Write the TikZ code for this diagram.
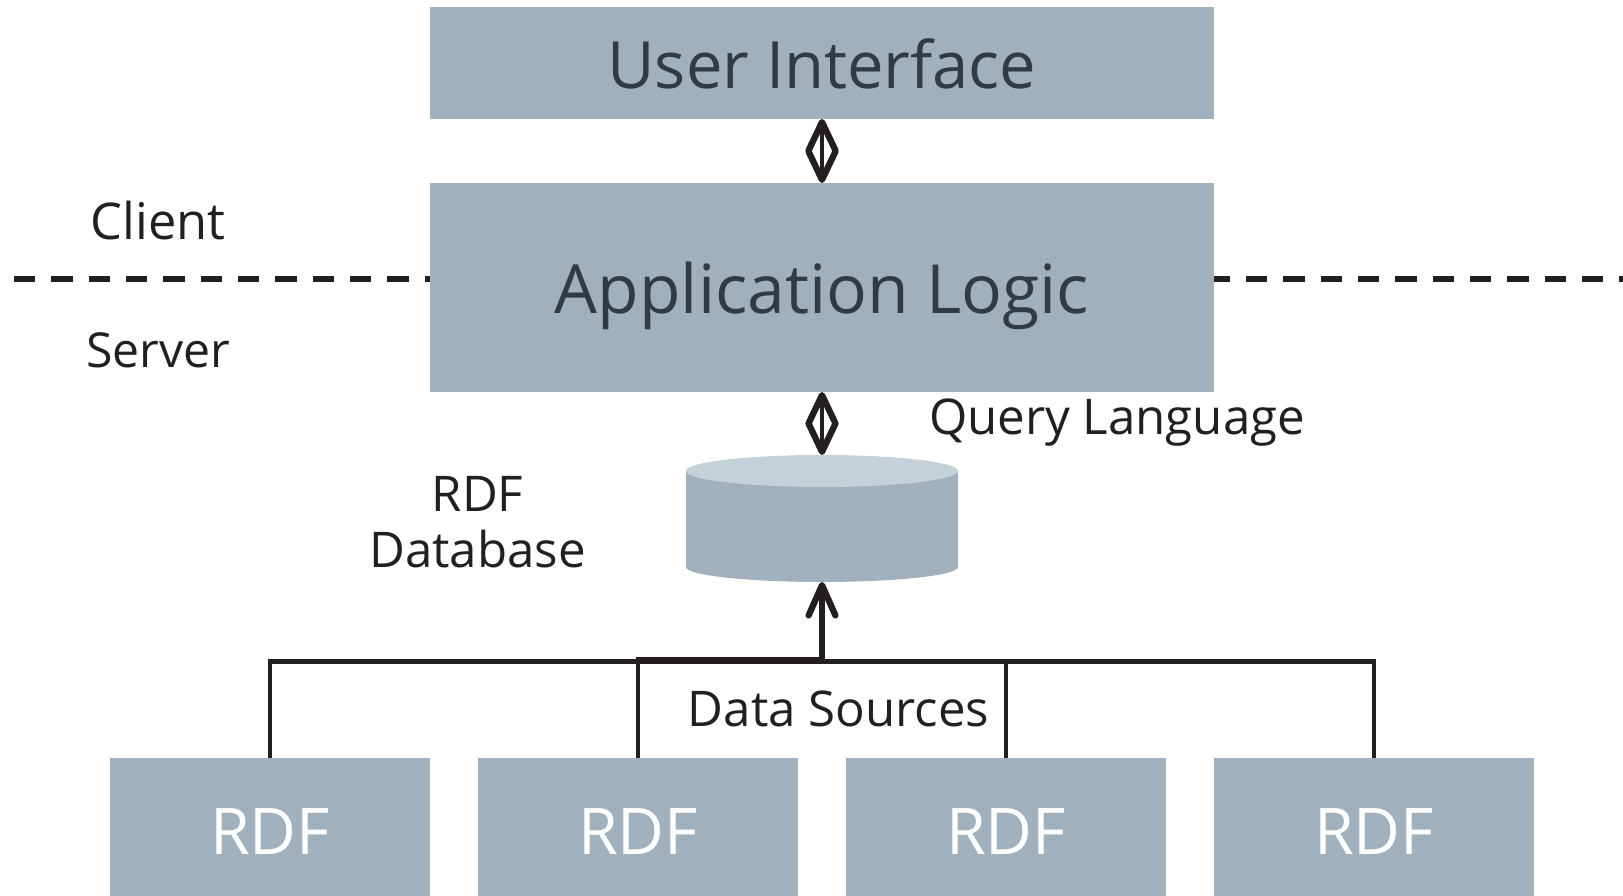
\documentclass[tikz,border=0pt]{standalone}
\usepackage{fontspec}
\setmainfont{Open Sans}
\usetikzlibrary{arrows.meta}
\definecolor{boxfill}{HTML}{A0B1BD}
\definecolor{capfill}{HTML}{C5D1D8}
\definecolor{boxtext}{HTML}{2F3B45}
\definecolor{inktext}{HTML}{231F20}
\tikzset{
	tier/.style={fill=boxfill, text=boxtext, minimum width=7.84cm, inner sep=0pt, outer sep=0pt, text height=0.52cm, text depth=0pt},
	source/.style={fill=boxfill, text=white, minimum width=3.2cm, minimum height=1.38cm, inner sep=0pt, outer sep=0pt, text height=0.56cm, text depth=0pt, font=\fontsize{18.3}{22}\selectfont},
	caption/.style={text=inktext, inner sep=0pt, align=center, font=\fontsize{14}{15.8}\selectfont},
	bothway/.style={draw=inktext, line width=1.15pt, {Straight Barb[round, length=8pt, width=7.6pt, line width=1.8pt]}-{Straight Barb[round, length=8pt, width=7.6pt, line width=1.8pt]}},
	feed/.style={draw=inktext, line width=1.3pt},
	split/.style={draw=inktext, line width=1.5pt, dash pattern=on 6.07pt off 4.55pt},
}
\begin{document}
\begin{tikzpicture}
	\useasboundingbox (0,0) rectangle (16.23,8.96);
	\node[tier, minimum height=1.12cm, font=\fontsize{18.55}{22}\selectfont] (ui) at (8.22,8.33) {User Interface};
	\node[tier, minimum height=2.09cm, font=\fontsize{19.3}{22}\selectfont] (app) at (8.22,6.085) {Application Logic};
	\node[minimum width=2.72cm, minimum height=1.27cm, inner sep=0pt, outer sep=0pt] (db) at (8.22,3.775) {};
	\fill[boxfill] ([yshift=-0.16cm]db.north west) -- ([yshift=0.15cm]db.south west) arc (180:360:1.36 and 0.15) -- ([yshift=-0.16cm]db.north east) -- cycle;
	\fill[capfill] ([yshift=-0.16cm]db.north) ellipse (1.36 and 0.16);
	\node[source] (rdfA) at (2.70,0.69) {RDF};
	\node[source] (rdfB) at (6.38,0.69) {RDF};
	\node[source] (rdfC) at (10.06,0.69) {RDF};
	\node[source] (rdfD) at (13.74,0.69) {RDF};
	% labels
	\node[caption, font=\fontsize{14.4}{16}\selectfont] (client) at (1.58,6.75) {Client};
	\node[caption, font=\fontsize{13.7}{16}\selectfont] (server) at (1.58,5.46) {Server};
	\node[caption, anchor=base] (query) at (11.17,4.61) {Query Language};
	\node[caption] (store) at (4.775,3.74) {RDF\\Database};
	\node[caption, anchor=base] (sources) at (8.385,1.69) {Data Sources};
	% client/server split
	\coordinate (dashL) at (0.14,6.17);
	\coordinate (dashR) at (16.23,6.17);
	\draw[split] (dashL) -- (dashL -| app.west);
	\draw[split, dash phase=1.5pt] (dashR -| app.east) -- (dashR);
	% arrows
	\draw[bothway] (ui.south) -- (app.north);
	\draw[bothway] (app.south) -- (db.north);
	\coordinate (bus) at (8.22,2.365);
	\coordinate (busB) at (8.22,2.345);
	\draw[feed, line width=1.6pt, -{Straight Barb[round, length=8.6pt, width=7.6pt, line width=1.8pt]}] (bus) -- (db.south);
	\draw[feed] (rdfB.north) |- (bus);
	\draw[feed] (rdfC.north) |- (busB);
	\draw[feed] (rdfA.north) -- (rdfA.north |- busB) -- (rdfD.north |- busB) -- (rdfD.north);
	\draw[feed, line width=1.55pt] (rdfA.north |- busB) -- (rdfD.north |- busB);
\end{tikzpicture}
\end{document}
